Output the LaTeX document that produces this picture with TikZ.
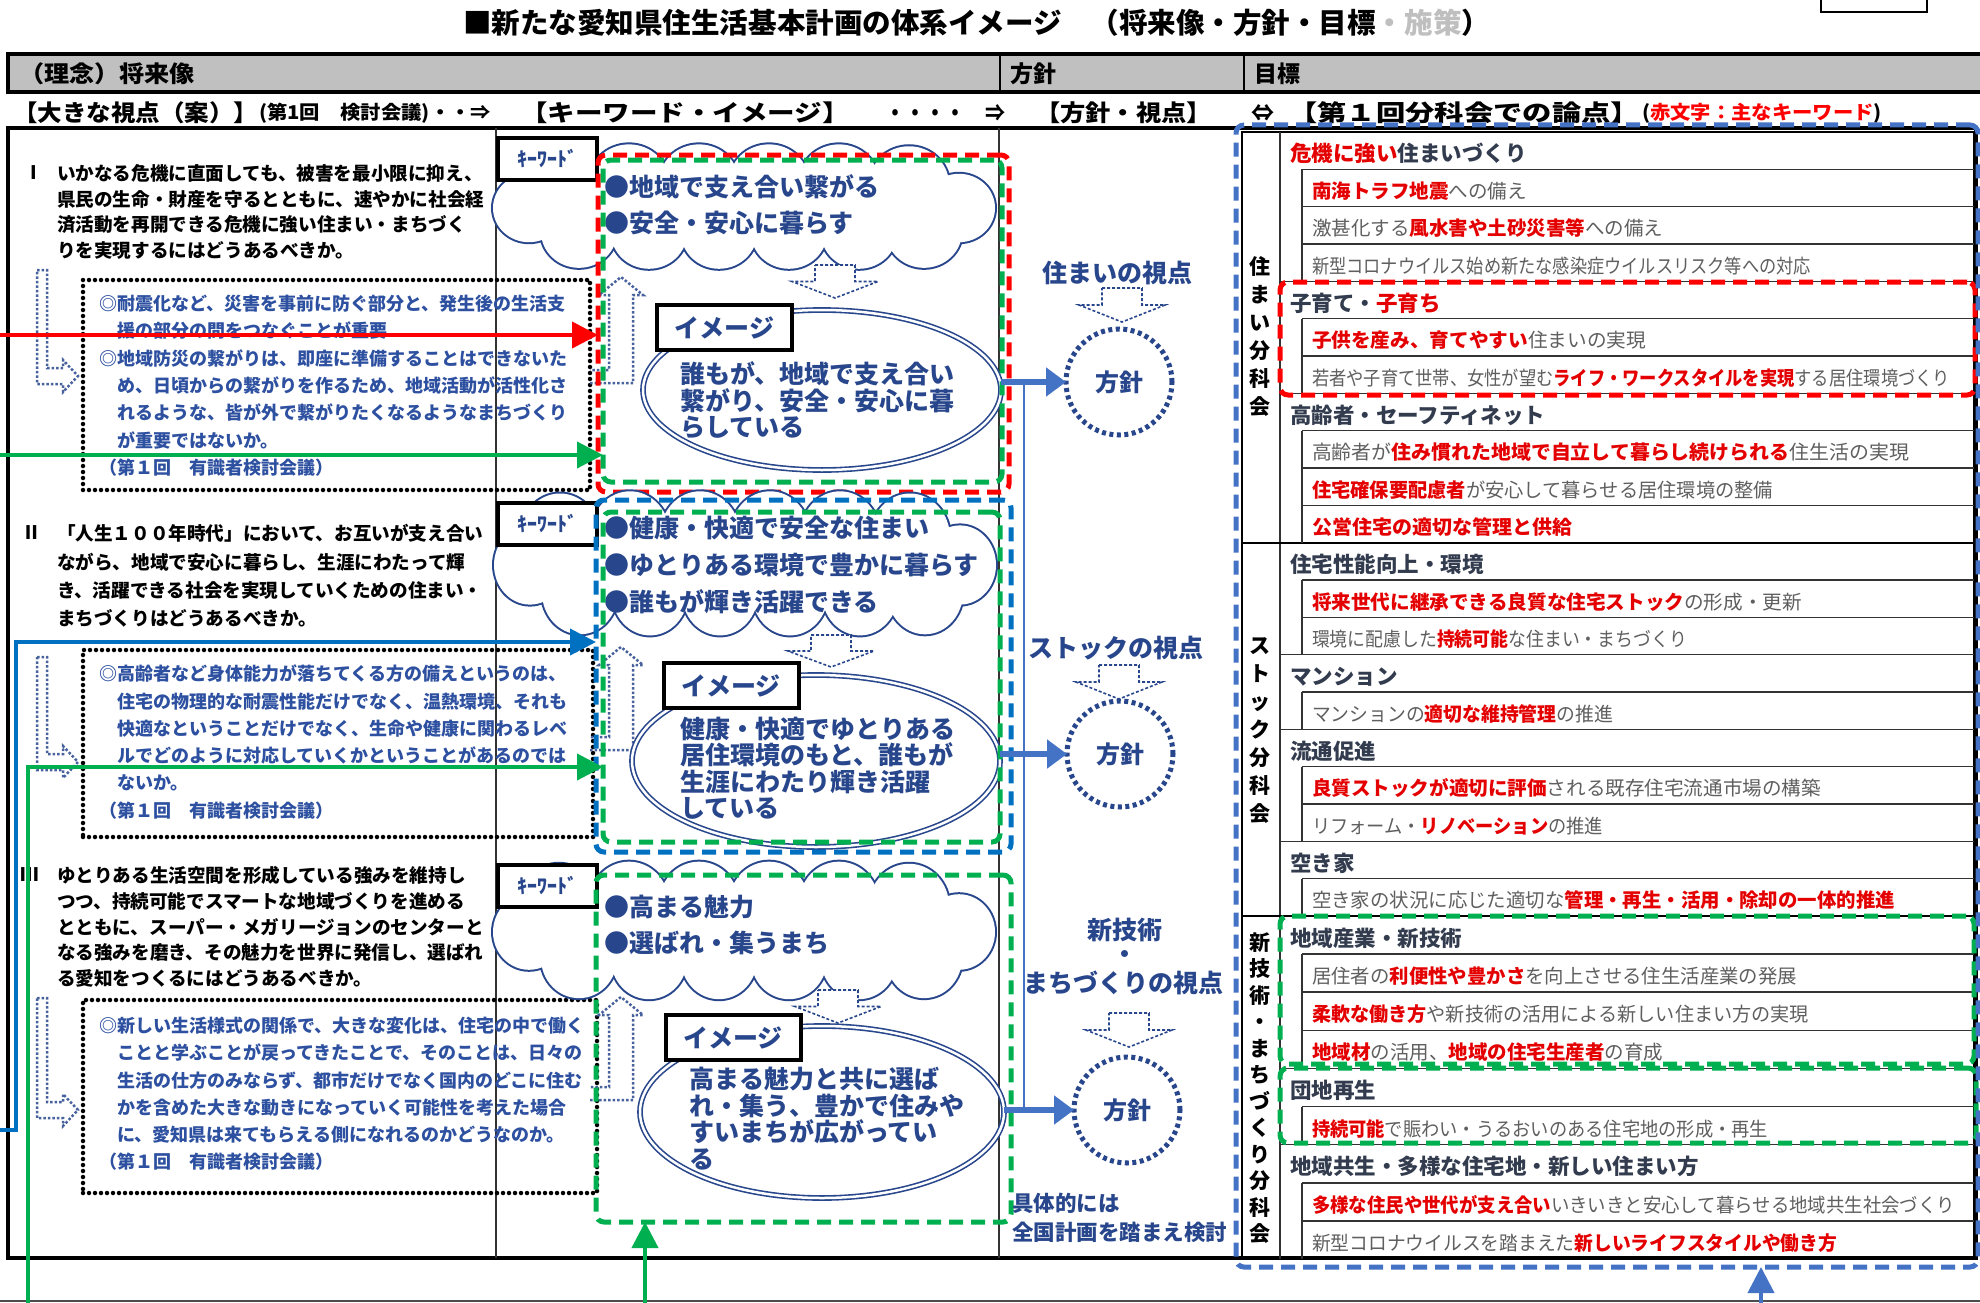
\documentclass[tikz,border=0pt]{standalone}
\usepackage{fontspec}
\setmainfont{Noto Sans CJK JP}
\usetikzlibrary{shapes.geometric,arrows.meta,calc}
\definecolor{navy}{RGB}{40,70,140}
\definecolor{bltxt}{RGB}{45,80,160}
\definecolor{kred}{RGB}{228,0,0}
\definecolor{rred}{RGB}{255,0,0}
\definecolor{grn}{RGB}{0,176,80}
\definecolor{dblue}{RGB}{0,112,192}
\definecolor{oblue}{RGB}{68,114,196}
\definecolor{ttl}{RGB}{50,60,78}
\definecolor{gtxt}{RGB}{95,95,95}
\definecolor{hdr}{RGB}{192,192,192}
\newcommand{\fsz}[2]{\fontsize{#1}{#2}\selectfont}
\newcommand{\kw}[1]{{\bfseries\color{kred}#1}}
\newcommand{\fitw}[2]{\resizebox{#1pt}{\height}{#2}}
\tikzset{
  every node/.style={inner sep=0pt, outer sep=0pt},
  dashbox/.style={draw, line width=5pt, dash pattern=on 14pt off 8pt, rounded corners=8pt, anchor=north west},
  dotbox/.style={draw=black, line width=4.5pt, dash pattern=on 0pt off 6pt, line cap=round, anchor=north west},
  kwbox/.style={draw, line width=4pt, fill=white, minimum width=99pt, minimum height=42pt, text=navy, font=\bfseries\fsz{20}{20}},
  imgbox/.style={draw, line width=4pt, fill=white, minimum width=135pt, minimum height=45pt, text=navy, font=\bfseries\fsz{25}{25}},
  ellsh/.style={ellipse, draw=navy, double=white, double distance=2.5pt, line width=1.6pt},
  circsh/.style={circle, draw=navy, line width=5pt, dash pattern=on 4pt off 3.5pt, minimum size=106pt, text=navy, font=\bfseries\fsz{24}{24}},
  bigarrow/.style={oblue, line width=6pt, -{Triangle[length=20pt,width=28pt]}},
  leftarrow/.style={line width=4pt, -{Triangle[length=26pt,width=26pt]}},
  hollowarr/.style={navy, densely dashed, line width=1.6pt, fill=white},
  dothollow/.style={navy!85, dash pattern=on 2.5pt off 2pt, line width=2.5pt},
  bullettxt/.style={anchor=west, text=navy, font=\bfseries\fsz{25}{25}},
  elltxt/.style={anchor=north west, align=left, text=navy, font=\bfseries\fsz{25}{26.5}},
  lefttxt/.style={anchor=north west, align=left, font=\bfseries\fsz{18.6}{25.7}},
  dottxt/.style={anchor=north west, align=left, text=bltxt, font=\bfseries\fsz{18}{27.3}},
  ttlrow/.style={anchor=west, text=ttl, font=\bfseries\fsz{21.5}{22}},
  subrow/.style={anchor=west, text=gtxt, font=\fsz{19.5}{20}},
  hdtxt/.style={anchor=west, font=\bfseries\fsz{23}{23}},
  viewtxt/.style={text=navy, font=\bfseries\fsz{25}{25}},
  tline/.style={black!80, line width=1.5pt}
}
\newcommand\hdarrow[3]{\draw[hollowarr] (#1-20,#2) -- (#1+20,#2) -- (#1+20,#2+#3*0.5) -- (#1+43,#2+#3*0.5) -- (#1,#2+#3) -- (#1-43,#2+#3*0.5) -- (#1-20,#2+#3*0.5) -- cycle;}
\newcommand\upL[2]{\draw[dothollow] (590,#2) -- (633,#2) -- (633,#1+18) -- (643,#1+18) -- (621,#1) -- (599,#1+18) -- (609,#1+18) -- (609,#2-13) -- (590,#2-13);}
\newcommand\leftL[2]{\draw[dothollow] (37,#1) -- (47,#1) -- (47,#2-8) -- (63,#2-8) -- (63,#2-16) -- (78,#2) -- (63,#2+16) -- (63,#2+8) -- (37,#2+8) -- cycle;}
% cloud drawn as a union of puffs: centre x, centre y, vertical scale
\newcommand\puffs{-185/-25/40,-115/-27/40,-45/-27/40,25/-27/40,95/-27/40,165/-25/40,-215/0/36,215/0/36,-165/25/38,-95/26/38,-25/26/38,45/26/38,115/26/38,180/25/38}
\newcommand\cloudat[3]{%
  \foreach \dx/\dy/\rr in \puffs
    \draw[navy, line width=4pt] (#1+\dx,#2+\dy*#3) ellipse [x radius={\rr*1pt}, y radius={\rr*#3*1pt}];
  \foreach \dx/\dy/\rr in \puffs
    \fill[white] (#1+\dx,#2+\dy*#3) ellipse [x radius={\rr*1pt}, y radius={\rr*#3*1pt}];
  \fill[white] (#1,#2) ellipse [x radius=205pt, y radius={28*#3*1pt}];
}
\begin{document}
\begin{tikzpicture}[x=1pt,y=-1pt]
\useasboundingbox (0,0) rectangle (1980,1303);
\fill[white] (0,0) rectangle (1980,1303);

% ---------- title ----------
\node[anchor=west, font=\bfseries\fsz{28.3}{30}] (title) at (463,22.5) {\fitw{1027}{■新たな愛知県住生活基本計画の体系イメージ　（将来像・方針・目標{\color{black!25}・施策}）}};
\node[draw, line width=1.5pt, minimum width=106pt, minimum height=20pt] (tagbox) at (1874,2) {};

% ---------- header bar ----------
\draw[fill=hdr, line width=4.5pt] (8,54) rectangle (1984,92);
\draw[line width=1.5pt] (1000,54) -- (1000,92);
\draw[line width=1.5pt] (1244,54) -- (1244,92);
\node[hdtxt] (hvision) at (19,74) {\fitw{176}{（理念）将来像}};
\node[hdtxt] (hpolicy) at (1010,74) {方針};
\node[hdtxt] (hgoal) at (1254,74) {目標};

% ---------- second header row ----------
\node[hdtxt] (k1) at (13,113) {\fitw{245}{【大きな視点（案）】}};
\node[anchor=west, font=\bfseries\fsz{19}{19}] (k2) at (259,113) {\fitw{232}{(第1回　検討会議)・・⇒}};
\node[hdtxt] (k3) at (520,113) {\fitw{330}{【キーワード・イメージ】}};
\node[hdtxt] (k4) at (885,113) {\fitw{120}{・・・・　⇒}};
\node[hdtxt] (k5) at (1035,113) {\fitw{177}{【方針・視点】}};
\node[font=\bfseries\fsz{23}{23}] (k6) at (1263,113) {⇔};
\node[hdtxt] (k7) at (1288,113) {\fitw{352}{【第１回分科会での論点】}};
\node[anchor=west, font=\bfseries\fsz{19}{19}] (k8) at (1642,113) {\fitw{240}{(\textcolor{rred}{赤文字：主なキーワード})}};

% ---------- frame ----------
\draw[line width=4.5pt] (8,128) rectangle (1976,1258);
\draw[line width=1.2pt, black!80] (496,128) -- (496,1258);
\draw[line width=1.2pt, black!80] (999,128) -- (999,1258);
\draw[line width=1.2pt, black!70] (0,1301) -- (1980,1301);

% ---------- left column ----------
\node[anchor=west, font=\bfseries\fsz{18.6}{18.6}] (n1) at (24,173) {Ⅰ};
\node[lefttxt] (q1) at (57,164.6) {いかなる危機に直面しても、被害を最小限に抑え、\\県民の生命・財産を守るとともに、速やかに社会経\\済活動を再開できる危機に強い住まい・まちづく\\りを実現するにはどうあるべきか。};
\leftL{270}{376}
\node[dotbox, minimum width=507pt, minimum height=210pt] (d1) at (83,280) {};
\node[dottxt] (dt1) at (99,295) {◎耐震化など、災害を事前に防ぐ部分と、発生後の生活支\\\hspace*{1em}援の部分の間をつなぐことが重要\\◎地域防災の繋がりは、即座に準備することはできないた\\\hspace*{1em}め、日頃からの繋がりを作るため、地域活動が活性化さ\\\hspace*{1em}れるような、皆が外で繋がりたくなるようなまちづくり\\\hspace*{1em}が重要ではないか。\\（第１回　有識者検討会議）};

\node[anchor=west, font=\bfseries\fsz{18.6}{18.6}] (n2) at (22,533) {Ⅱ};
\node[anchor=north west, align=left, font=\bfseries\fsz{18.6}{28.3}] (q2) at (57,524.6) {「人生１００年時代」において、お互いが支え合い\\ながら、地域で安心に暮らし、生涯にわたって輝\\き、活躍できる社会を実現していくための住まい・\\まちづくりはどうあるべきか。};
\leftL{657}{762}
\node[dotbox, minimum width=510pt, minimum height=187pt] (d2) at (83,650) {};
\node[dottxt] (dt2) at (99,665) {◎高齢者など身体能力が落ちてくる方の備えというのは、\\\hspace*{1em}住宅の物理的な耐震性能だけでなく、温熱環境、それも\\\hspace*{1em}快適なということだけでなく、生命や健康に関わるレベ\\\hspace*{1em}ルでどのように対応していくかということがあるのでは\\\hspace*{1em}ないか。\\（第１回　有識者検討会議）};

\node[anchor=west, font=\bfseries\fsz{18.6}{18.6}] (n3) at (20,875) {Ⅲ};
\node[lefttxt] (q3) at (57,866.6) {ゆとりある生活空間を形成している強みを維持し\\つつ、持続可能でスマートな地域づくりを進める\\とともに、スーパー・メガリージョンのセンターと\\なる強みを磨き、その魅力を世界に発信し、選ばれ\\る愛知をつくるにはどうあるべきか。};
\leftL{998}{1110}
\node[dotbox, minimum width=514pt, minimum height=193pt] (d3) at (83,1000) {};
\node[dottxt] (dt3) at (99,1017) {◎新しい生活様式の関係で、大きな変化は、住宅の中で働く\\\hspace*{1em}ことと学ぶことが戻ってきたことで、そのことは、日々の\\\hspace*{1em}生活の仕方のみならず、都市だけでなく国内のどこに住む\\\hspace*{1em}かを含めた大きな動きになっていく可能性を考えた場合\\\hspace*{1em}に、愛知県は来てもらえる側になれるのかどうなのか。\\（第１回　有識者検討会議）};

% ---------- middle column: I ----------
\cloudat{744}{208}{0.95}
\node[kwbox] (kw1) at (547.5,159) {ｷｰﾜｰﾄﾞ};
\node[bullettxt] (b1a) at (604,187) {●地域で支え合い繋がる};
\node[bullettxt] (b1b) at (604,223) {●安全・安心に暮らす};
\hdarrow{835}{265}{33}
\upL{277}{383}
\node[ellsh, minimum width=358pt, minimum height=160pt] (ell1) at (822,390) {};
\node[imgbox] (img1) at (724.5,327.5) {イメージ};
\node[elltxt] (et1) at (680,362) {誰もが、地域で支え合い\\繋がり、安全・安心に暮\\らしている};
\node[dashbox, draw=rred, minimum width=411pt, minimum height=337pt] (red1) at (598,155) {};
\node[dashbox, draw=grn, minimum width=399pt, minimum height=322pt] (grn1) at (603,160) {};

% ---------- middle column: II ----------
\cloudat{745}{565}{1.1}
\node[kwbox] (kw2) at (547.5,524) {ｷｰﾜｰﾄﾞ};
\node[bullettxt] (b2a) at (604,528) {●健康・快適で安全な住まい};
\node[bullettxt] (b2b) at (604,565) {●ゆとりある環境で豊かに暮らす};
\node[bullettxt] (b2c) at (604,602) {●誰もが輝き活躍できる};
\hdarrow{831}{635}{32}
\upL{647}{750}
\node[ellsh, minimum width=368pt, minimum height=172pt] (ell2) at (816,761) {};
\node[imgbox] (img2) at (731,685.5) {イメージ};
\node[elltxt] (et2) at (680,717) {健康・快適でゆとりある\\居住環境のもと、誰もが\\生涯にわたり輝き活躍\\している};
\node[dashbox, draw=dblue, minimum width=415pt, minimum height=352pt] (blue2) at (596,500) {};
\node[dashbox, draw=grn, minimum width=397pt, minimum height=330pt] (grn2) at (603,512) {};

% ---------- middle column: III ----------
\cloudat{744}{932}{1.05}
\node[kwbox] (kw3) at (547.5,886) {ｷｰﾜｰﾄﾞ};
\node[bullettxt] (b3a) at (604,907) {●高まる魅力};
\node[bullettxt] (b3b) at (604,943) {●選ばれ・集うまち};
\hdarrow{838}{990}{33}
\upL{997}{1100}
\node[ellsh, minimum width=364pt, minimum height=172pt] (ell3) at (822,1112) {};
\node[imgbox] (img3) at (733,1037.5) {イメージ};
\node[elltxt] (et3) at (689,1067) {高まる魅力と共に選ば\\れ・集う、豊かで住みや\\すいまちが広がってい\\る};
\node[dashbox, draw=grn, minimum width=415pt, minimum height=347pt] (grn3) at (596,875) {};

% ---------- policy column ----------
\node[viewtxt] (v1) at (1117,273) {住まいの視点};
\hdarrow{1122}{288}{34}
\node[circsh] (c1) at (1119,382) {方針};
\node[viewtxt] (v2) at (1116,648) {ストックの視点};
\hdarrow{1119}{665}{34}
\node[circsh] (c2) at (1120,754) {方針};
\node[viewtxt] (v3a) at (1125,930) {新技術};
\node[viewtxt] (v3b) at (1125,957) {・};
\node[viewtxt] (v3c) at (1123,983) {まちづくりの視点};
\hdarrow{1129}{1013}{34}
\node[circsh] (c3) at (1127,1110) {方針};
\node[anchor=west, text=navy, font=\bfseries\fsz{21.5}{21.5}] (nt1) at (1012,1203) {具体的には};
\node[anchor=west, text=navy, font=\bfseries\fsz{21.5}{21.5}] (nt2) at (1012,1232) {全国計画を踏まえ検討};
\coordinate (vt) at (1024,383);
\coordinate (vb) at (1024,1112);
\draw[oblue, line width=2pt] (vt) -- (vb);
\draw[bigarrow] (ell1.east |- c1.west) -- (c1.west);
\draw[bigarrow] (ell2.east |- c2.west) -- (c2.west);
\draw[bigarrow] (ell3.east |- c3.west) -- (c3.west);

% ---------- table ----------
\draw[line width=2.5pt] (1242,132) rectangle (1974,1259);
\draw[tline] (1280,132) -- (1280,1259);
\foreach \y in {169.3,206.7,244,318.7,356,430.7,468,505.3,580,617.3,692,766.7,804,878.7,954.1,992.2,1030.3,1106.6,1182.8,1220.9}
  \draw[tline] (1302,\y) -- (1974,\y);
\foreach \y in {281.3,393.3,654.7,729.3,841.3,1068.4,1144.7}
  \draw[tline] (1280,\y) -- (1974,\y);
\foreach \y in {542.7,916}
  \draw[line width=2pt] (1242,\y) -- (1974,\y);
\foreach \a/\b in {169.3/281.3,318.7/393.3,430.7/542.7,580/654.7,692/729.3,766.7/841.3,878.7/916,954.1/1068.4,1106.6/1144.7,1182.8/1259}
  \draw[tline] (1302,\a) -- (1302,\b);

\node[align=center, font=\bfseries\fsz{21}{28}] (cat1) at (1260,336) {住\\ま\\い\\分\\科\\会};
\node[align=center, font=\bfseries\fsz{21}{28}] (cat2) at (1260,731) {ス\\ト\\ッ\\ク\\分\\科\\会};
\node[align=center, font=\bfseries\fsz{21}{26.5}] (cat3) at (1260,1088) {新\\技\\術\\・\\ま\\ち\\づ\\く\\り\\分\\科\\会};

\node[ttlrow] (t1) at (1290,153.7) {\kw{危機に強い}住まいづくり};
\node[subrow] (s2) at (1312,191) {\fitw{215}{\kw{南海トラフ地震}への備え}};
\node[subrow] (s3) at (1312,228.4) {\fitw{351}{激甚化する\kw{風水害や土砂災害等}への備え}};
\node[subrow] (s4) at (1312,265.7) {\fitw{499}{新型コロナウイルス始め新たな感染症ウイルスリスク等への対応}};
\node[ttlrow] (t5) at (1290,303) {子育て・\kw{子育ち}};
\node[subrow] (s6) at (1312,340.4) {\fitw{334}{\kw{子供を産み、育てやすい}住まいの実現}};
\node[subrow] (s7) at (1312,377.7) {\fitw{638}{若者や子育て世帯、女性が望む\kw{ライフ・ワークスタイルを実現}する居住環境づくり}};
\node[ttlrow] (t8) at (1290,415) {高齢者・セーフティネット};
\node[subrow] (s9) at (1312,452.4) {\fitw{597}{高齢者が\kw{住み慣れた地域で自立して暮らし続けられる}住生活の実現}};
\node[subrow] (s10) at (1312,489.7) {\fitw{461}{\kw{住宅確保要配慮者}が安心して暮らせる居住環境の整備}};
\node[subrow] (s11) at (1312,527) {\fitw{260}{\kw{公営住宅の適切な管理と供給}}};
\node[ttlrow] (t12) at (1290,564.4) {住宅性能向上・環境};
\node[subrow] (s13) at (1312,601.7) {\fitw{490}{\kw{将来世代に継承できる良質な住宅ストック}の形成・更新}};
\node[subrow] (s14) at (1312,639) {\fitw{375}{環境に配慮した\kw{持続可能}な住まい・まちづくり}};
\node[ttlrow] (t15) at (1290,676.4) {マンション};
\node[subrow] (s16) at (1312,713.7) {\fitw{301}{マンションの\kw{適切な維持管理}の推進}};
\node[ttlrow] (t17) at (1290,751) {流通促進};
\node[subrow] (s18) at (1312,788.4) {\fitw{509}{\kw{良質ストックが適切に評価}される既存住宅流通市場の構築}};
\node[subrow] (s19) at (1312,825.7) {\fitw{291}{リフォーム・\kw{リノベーション}の推進}};
\node[ttlrow] (t20) at (1290,863) {空き家};
\node[subrow] (s21) at (1312,900.4) {\fitw{583}{空き家の状況に応じた適切な\kw{管理・再生・活用・除却の一体的推進}}};
\node[ttlrow] (t22) at (1290,938) {地域産業・新技術};
\node[subrow] (s23) at (1312,976.2) {\fitw{485}{居住者の\kw{利便性や豊かさ}を向上させる住生活産業の発展}};
\node[subrow] (s24) at (1312,1014.3) {\fitw{497}{\kw{柔軟な働き方}や新技術の活用による新しい住まい方の実現}};
\node[subrow] (s25) at (1312,1052.4) {\fitw{351}{\kw{地域材}の活用、\kw{地域の住宅生産者}の育成}};
\node[ttlrow] (t26) at (1290,1090.5) {団地再生};
\node[subrow] (s27) at (1312,1128.7) {\fitw{456}{\kw{持続可能}で賑わい・うるおいのある住宅地の形成・再生}};
\node[ttlrow] (t28) at (1290,1166.8) {地域共生・多様な住宅地・新しい住まい方};
\node[subrow] (s29) at (1312,1204.9) {\fitw{643}{\kw{多様な住民や世代が支え合い}いきいきと安心して暮らせる地域共生社会づくり}};
\node[subrow] (s30) at (1312,1243) {\fitw{525}{新型コロナウイルスを踏まえた\kw{新しいライフスタイルや働き方}}};

\node[dashbox, draw=rred, minimum width=695pt, minimum height=113pt] (redt) at (1280,282) {};
\node[dashbox, draw=grn, minimum width=694pt, minimum height=148pt] (grnt1) at (1280,916) {};
\node[dashbox, draw=grn, minimum width=696pt, minimum height=75pt] (grnt2) at (1280,1068) {};
\node[dashbox, draw=oblue, minimum width=742pt, minimum height=1142pt] (tbl) at (1236,125) {};

% ---------- connectors ----------
\coordinate (ra) at (0,335);
\draw[leftarrow, rred] (ra) -- (ra -| red1.west);
\coordinate (ga) at (0,455);
\draw[leftarrow, grn] (ga) -- (ga -| grn1.west);
\coordinate (ba) at (0,1130);
\coordinate (ba2) at (16,642);
\draw[leftarrow, dblue] (ba) -| (ba2) -- (ba2 -| blue2.west);
\coordinate (gb) at (28,1303);
\coordinate (gb2) at (28,767);
\draw[leftarrow, grn] (gb) -- (gb2) -- (gb2 -| grn2.west);
\coordinate (gc) at (645,1303);
\draw[leftarrow, grn] (gc) -- (gc |- grn3.south);
\coordinate (bc) at (1761,1303);
\draw[leftarrow, oblue] (bc) -- (bc |- tbl.south);
\end{tikzpicture}
\end{document}
